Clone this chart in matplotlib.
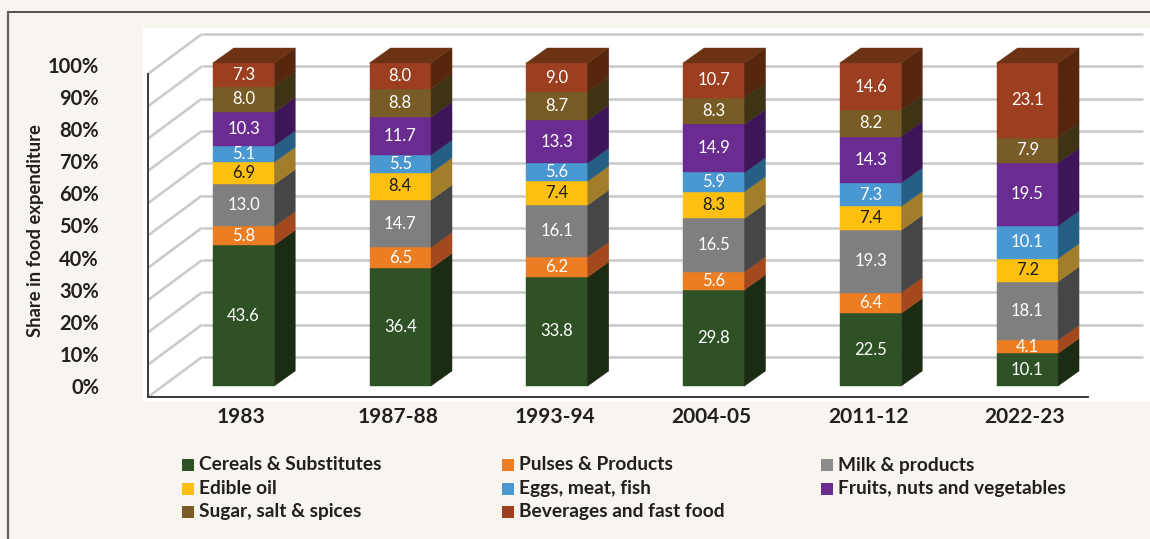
import numpy as np
import matplotlib
matplotlib.use("Agg")
import matplotlib.pyplot as plt
from matplotlib.patches import Polygon, Rectangle
from matplotlib.lines import Line2D
import matplotlib.transforms as mtransforms

# ---------------- data ----------------
periods = ["1983", "1987-88", "1993-94", "2004-05", "2011-12", "2022-23"]
categories = ["Cereals & Substitutes", "Pulses & Products", "Milk & products",
              "Edible oil", "Eggs, meat, fish", "Fruits, nuts and vegetables",
              "Sugar, salt & spices", "Beverages and fast food"]
cereals = [43.6, 36.4, 33.8, 29.8, 22.5, 10.1]
pulses = [5.8, 6.5, 6.2, 5.6, 6.4, 4.1]
milk = [13.0, 14.7, 16.1, 16.5, 19.3, 18.1]
edible_oil = [6.9, 8.4, 7.4, 8.3, 7.4, 7.2]
eggs_meat_fish = [5.1, 5.5, 5.6, 5.9, 7.3, 10.1]
fruits_veg = [10.3, 11.7, 13.3, 14.9, 14.3, 19.5]
sugar_salt = [8.0, 8.8, 8.7, 8.3, 8.2, 7.9]
beverages = [7.3, 8.0, 9.0, 10.7, 14.6, 23.1]
y_ticks = [0, 10, 20, 30, 40, 50, 60, 70, 80, 90, 100]
y_label = "Share in food expenditure"

# ---------------- style ----------------
front_colors = ["#2f5126", "#ed7d22", "#7f7f7f", "#fdc010",
                "#4a98d2", "#6a2c91", "#785b25", "#9b3f20"]
side_colors = ["#1c2b14", "#a4481d", "#464646", "#a27d2a",
               "#255f86", "#3c1659", "#3e3315", "#56260d"]
top_colors = ["#23391a", "#c05e1f", "#5e5e5e", "#c9981c",
              "#3578a8", "#502072", "#5a4520", "#6b3313"]
text_colors = ["white", "white", "white", "#1a1a1a",
               "white", "white", "white", "white"]
bg = "#f8f4ef"
grid_c = "#cbcbcb"
FONT = "Lato"

series = [cereals, pulses, milk, edible_oil, eggs_meat_fish,
          fruits_veg, sugar_salt, beverages]
vals = np.array(series, dtype=float)          # (8, 6)
shares = vals / vals.sum(axis=0) * 100.0

W, H = 1150, 539
fig = plt.figure(figsize=(W / 100, H / 100), dpi=100)
fig.patch.set_facecolor(bg)

# axes box (white plot area)
L, R, T, B = 143, 1150, 28, 402
ax = fig.add_axes([L / W, (H - B) / H, (R - L) / W, (B - T) / H])
ax.set_facecolor("white")
x0px, xstep = 243.5, 156.76        # bar-centre mapping
y0px, ystep = 386.0, 3.23          # value mapping
ax.set_xlim((L - x0px) / xstep, (R - x0px) / xstep)
ax.set_ylim((y0px - B) / ystep, (y0px - T) / ystep)
for s in ax.spines.values():
    s.set_visible(False)
ax.set_xticks([])
ax.set_yticks([])

# 3D geometry (data units)
bar_w = 61.5 / xstep
bdx, bdy = 21 / xstep, 15 / ystep            # bar depth
front_x = (148 - x0px) / xstep              # front plane left edge
front_dy = -11 / ystep                      # front plane offset from bar face
wdx, wdy = 54 / xstep, 40 / ystep           # wall depth from front plane
wall_right = (1143 - x0px) / xstep
floor_right = (1088 - x0px) / xstep

# back wall gridlines + left wall diagonals
for v in y_ticks:
    yf = v + front_dy
    yb = yf + wdy
    ax.plot([front_x + wdx, wall_right], [yb, yb], color=grid_c, lw=1.9,
            zorder=1, solid_capstyle="butt")
    ax.plot([front_x, front_x + wdx], [yf, yb], color=grid_c, lw=1.9,
            zorder=1, solid_capstyle="butt")
# front axis lines
ax.plot([front_x, front_x], [front_dy, 100 + front_dy], color="#3a3a3a",
        lw=1.4, zorder=2)
ax.plot([front_x, floor_right], [front_dy, front_dy], color="#3a3a3a",
        lw=1.4, zorder=2)

# bars
xs = np.arange(len(periods))
bottoms = np.zeros(len(periods))
for k in range(len(series)):
    h = shares[k]
    ax.bar(xs, h, width=bar_w, bottom=bottoms, color=front_colors[k],
           edgecolor=front_colors[k], linewidth=0.3, zorder=3)
    for i, x in enumerate(xs):
        xr = x + bar_w / 2
        y0, y1 = bottoms[i], bottoms[i] + h[i]
        side = Polygon([(xr, y0), (xr + bdx, y0 + bdy), (xr + bdx, y1 + bdy),
                        (xr, y1)], closed=True, facecolor=side_colors[k],
                       edgecolor=side_colors[k], linewidth=0.3, zorder=3)
        ax.add_patch(side)
        if k == len(series) - 1:
            xl = x - bar_w / 2
            top = Polygon([(xl, y1), (xl + bdx, y1 + bdy), (xr + bdx, y1 + bdy),
                           (xr, y1)], closed=True, facecolor=top_colors[k],
                          edgecolor=top_colors[k], linewidth=0.3, zorder=3)
            ax.add_patch(top)
        ax.text(x, (y0 + y1) / 2, f"{vals[k, i]:.1f}", ha="center",
                va="center", color=text_colors[k], fontsize=12,
                family=FONT, zorder=5)
    bottoms = bottoms + h

# y tick labels
tr_y = mtransforms.blended_transform_factory(fig.transFigure, ax.transData)
for v in y_ticks:
    ax.text(99 / W, v * 0.994 - 0.6, f"{v}%", transform=tr_y, ha="right",
            va="center", fontsize=14.5, fontweight="bold", family=FONT,
            color="#231f20", clip_on=False)

# x tick labels
tr_x = mtransforms.blended_transform_factory(ax.transData, fig.transFigure)
for i, p in enumerate(periods):
    ax.text(xs[i] - 0.015, (H - 417) / H, p, transform=tr_x, ha="center",
            va="center", fontsize=15, fontweight="bold", family=FONT,
            color="#231f20", clip_on=False)

# y label
fig.text(36 / W, (H - 231) / H, y_label, rotation=90, ha="center",
         va="center", fontsize=13.2, fontweight="bold", family=FONT,
         color="#231f20")

# frame lines (outer box)
fig.add_artist(Line2D([8 / W, 1.0], [(H - 12) / H] * 2, color="#333333",
                      lw=1.2, transform=fig.transFigure))
fig.add_artist(Line2D([8 / W] * 2, [0, (H - 12) / H], color="#666060",
                      lw=1.6, transform=fig.transFigure))

# legend
col_x = [182, 502, 821]
row_y = [465, 488.5, 512]
for k, name in enumerate(categories):
    r, c = divmod(k, 3)
    mx, my = col_x[c], row_y[r]
    fig.add_artist(Rectangle((mx / W, (H - my - 6) / H), 12 / W, 12 / H,
                             transform=fig.transFigure,
                             facecolor=front_colors[k] if k != 2 else "#8c8c8c",
                             edgecolor="none"))
    fig.text((mx + 17) / W, (H - my) / H, name, ha="left", va="center",
             fontsize=13.8, fontweight="bold", family=FONT, color="#231f20")

fig.savefig("out.png", dpi=100, facecolor=bg)
